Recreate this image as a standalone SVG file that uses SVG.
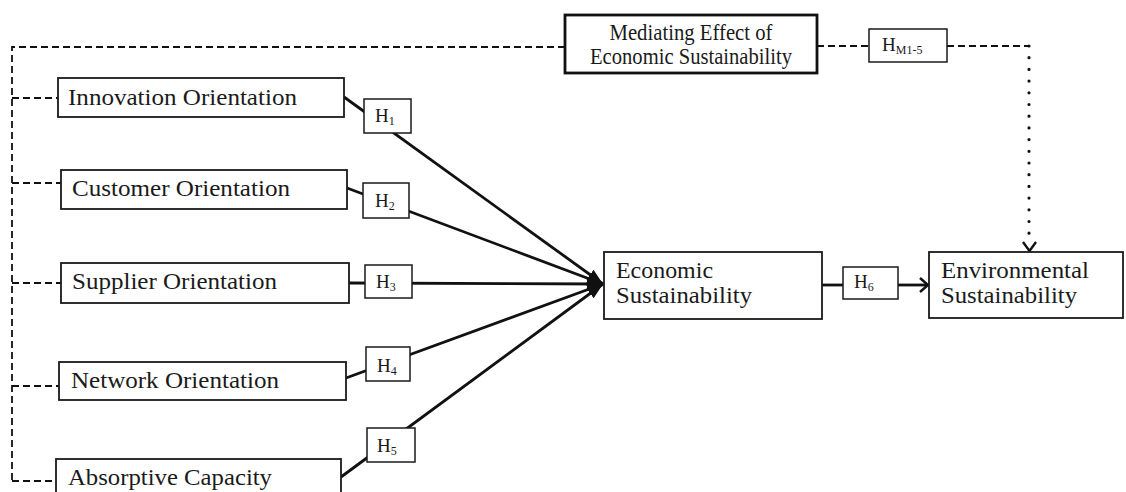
<svg xmlns="http://www.w3.org/2000/svg" width="1126" height="492" viewBox="0 0 1126 492">
<style>
.node{fill:#fff;stroke:#1a1a1a;stroke-width:1.8}
.hbox{fill:#fff;stroke:#1a1a1a;stroke-width:1.5}
.med{fill:#fff;stroke:#111;stroke-width:2.8}
.t{font-family:"Liberation Serif","Times New Roman",serif;font-size:23px;fill:#1a1a1a}
.h{font-family:"Liberation Serif","Times New Roman",serif;font-size:19px;fill:#1a1a1a}
.sub{font-size:12px}
.main{stroke:#111;stroke-width:2.8;fill:none}
.dash{stroke:#111;stroke-width:1.8;fill:none;stroke-dasharray:7 4}
.dot{stroke:#111;stroke-width:3.2;fill:none;stroke-dasharray:0 11.7;stroke-linecap:round}
.chev{stroke:#111;stroke-width:2.4;fill:none}
</style>
<defs>
<marker id="fill" markerUnits="userSpaceOnUse" markerWidth="18" markerHeight="14" refX="16" refY="7" orient="auto">
<path d="M0,1 L16,7 L0,13 Z" fill="#111"/>
</marker>
</defs>
<g id="connectors">
<path class="dash" d="M565,47 H12 V481"/>
<path class="dash" d="M12,98 H58"/>
<path class="dash" d="M12,183 H61"/>
<path class="dash" d="M12,283 H61"/>
<path class="dash" d="M12,386 H59"/>
<path class="dash" d="M12,481 H56"/>
<path class="dash" d="M817,46 H869"/>
<path class="dash" d="M947,46 H1029"/>
<path class="dot" d="M1029,46 V244"/>
<path class="chev" d="M1023,242 L1029.5,251 L1036,242"/>
<path class="main" d="M344,97 L603,284" marker-end="url(#fill)"/>
<path class="main" d="M347,188 L603,284" marker-end="url(#fill)"/>
<path class="main" d="M349,283 L603,284" marker-end="url(#fill)"/>
<path class="main" d="M346,378 L603,284" marker-end="url(#fill)"/>
<path class="main" d="M341,477 L603,284" marker-end="url(#fill)"/>
<path class="main" d="M822,285 H843"/>
<path class="main" d="M898,285 H927"/>
<path class="chev" d="M920,278 L928,285 L920,292"/>
</g>
<g id="mediating">
<rect class="med" x="565" y="15" width="252" height="58"/>
<text class="t" x="691" y="40" text-anchor="middle" textLength="163" lengthAdjust="spacingAndGlyphs">Mediating Effect of</text>
<text class="t" x="691" y="64" text-anchor="middle" textLength="202" lengthAdjust="spacingAndGlyphs">Economic Sustainability</text>
</g>
<g id="hm">
<rect class="hbox" x="869" y="29" width="78" height="33"/>
<text class="h" x="882" y="51">H<tspan class="sub" dy="3">M1-5</tspan></text>
</g>
<g id="innovation">
<rect class="node" x="58" y="78" width="286" height="39"/>
<text class="t" x="68" y="105" textLength="229" lengthAdjust="spacingAndGlyphs">Innovation Orientation</text>
</g>
<g id="customer">
<rect class="node" x="61" y="170" width="286" height="39"/>
<text class="t" x="72" y="196" textLength="218" lengthAdjust="spacingAndGlyphs">Customer Orientation</text>
</g>
<g id="supplier">
<rect class="node" x="61" y="263" width="288" height="40"/>
<text class="t" x="72" y="289" textLength="205" lengthAdjust="spacingAndGlyphs">Supplier Orientation</text>
</g>
<g id="network">
<rect class="node" x="59" y="362" width="287" height="38"/>
<text class="t" x="71" y="388" textLength="208" lengthAdjust="spacingAndGlyphs">Network Orientation</text>
</g>
<g id="absorptive">
<rect class="node" x="56" y="459" width="285" height="45"/>
<text class="t" x="68" y="485" textLength="204" lengthAdjust="spacingAndGlyphs">Absorptive Capacity</text>
</g>
<g id="h1">
<rect class="hbox" x="364" y="99" width="47" height="34"/>
<text class="h" x="375" y="122">H<tspan class="sub" dy="3">1</tspan></text>
</g>
<g id="h2">
<rect class="hbox" x="363" y="183" width="46" height="35"/>
<text class="h" x="375" y="207">H<tspan class="sub" dy="3">2</tspan></text>
</g>
<g id="h3">
<rect class="hbox" x="365" y="265" width="47" height="33"/>
<text class="h" x="376" y="288">H<tspan class="sub" dy="3">3</tspan></text>
</g>
<g id="h4">
<rect class="hbox" x="366" y="347" width="44" height="34"/>
<text class="h" x="377" y="372">H<tspan class="sub" dy="3">4</tspan></text>
</g>
<g id="h5">
<rect class="hbox" x="367" y="428" width="48" height="34"/>
<text class="h" x="377" y="452">H<tspan class="sub" dy="3">5</tspan></text>
</g>
<g id="economic">
<rect class="node" x="604" y="252" width="218" height="67"/>
<text class="t" x="616" y="278" textLength="97" lengthAdjust="spacingAndGlyphs">Economic</text>
<text class="t" x="616" y="303" textLength="136" lengthAdjust="spacingAndGlyphs">Sustainability</text>
</g>
<g id="h6">
<rect class="hbox" x="843" y="267" width="55" height="32"/>
<text class="h" x="854" y="288">H<tspan class="sub" dy="3">6</tspan></text>
</g>
<g id="environmental">
<rect class="node" x="929" y="252" width="194" height="66"/>
<text class="t" x="941" y="278" textLength="148" lengthAdjust="spacingAndGlyphs">Environmental</text>
<text class="t" x="941" y="303" textLength="136" lengthAdjust="spacingAndGlyphs">Sustainability</text>
</g>
</svg>
